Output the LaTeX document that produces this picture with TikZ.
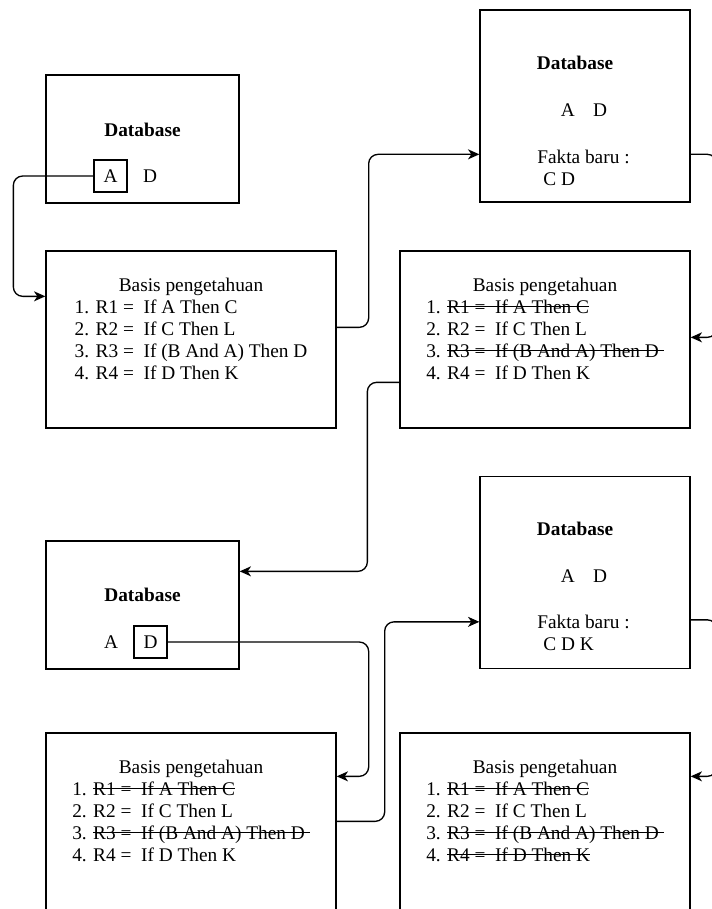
\documentclass[tikz,border=0pt]{standalone}
\usepackage{fontspec}
\setmainfont{Liberation Serif}
\usepackage{tikz}
\usetikzlibrary{arrows.meta, positioning, calc}

% coret teks (garis tengah)
\newsavebox{\strkbox}
\newcommand{\strk}[1]{\sbox{\strkbox}{#1}\rlap{\rule[0.36em]{\wd\strkbox}{0.8pt}}\usebox{\strkbox}}

\begin{document}
\begin{tikzpicture}[x=0.75pt, y=-0.75pt,
        every node/.style={font=\fontsize{14.5}{16.5}\selectfont},
        dbsmall/.style={draw, line width=1pt, minimum width=144.75pt, minimum height=96pt, inner sep=0pt},
        dbbig/.style={draw, line width=1pt, minimum width=157.5pt, minimum height=144pt, inner sep=0pt},
        kbbox/.style={draw, line width=1pt, minimum width=217.5pt, minimum height=132.75pt, inner sep=0pt},
        factbox/.style={draw, line width=1pt, minimum width=24.75pt, minimum height=24pt, inner sep=0pt},
        txt/.style={inner sep=0pt},
        title/.style={inner sep=0pt, font=\fontsize{14.5}{16.5}\selectfont\bfseries},
        conn/.style={line width=1pt, rounded corners=7pt, -{Stealth[length=8.5pt, width=7.5pt, inset=2.5pt]}}]

        \useasboundingbox (0,0) rectangle (712,909);
        \clip (0,0) rectangle (712,909);

        % Database 1 (left top)
        \node[dbsmall] (db1) at (142.5,139) {};
        \node[title] (db1title) at ($(db1)+(0,-9)$) {Database};
        \node[factbox] (a1) at ($(db1)+(-32,37)$) {A};
        \node[txt] (d1) at ($(db1)+(7.5,37)$) {D};

        % Basis pengetahuan 1
        \node[kbbox] (kb1) at (191,339.5) {};
        \node[txt] (kb1txt) at ($(kb1)+(0,-8)$) {\begin{tabular}{@{}l@{}}
            \multicolumn{1}{@{}c@{}}{Basis pengetahuan}\\
            1. R1 = \ If A Then C\\
            2. R2 = \ If C Then L\\
            3. R3 = \ If (B And A) Then D\\
            4. R4 = \ If D Then K
        \end{tabular}};

        % Database 2 (right top)
        \node[dbbig] (db2) at (585,106) {};
        \node[title] (db2title) at ($(db2)+(-10,-43)$) {Database};
        \node[txt] (db2fakta) at ($(db2)+(-1,4)$) {A\hspace{0.95em}D};
        \node[txt, align=left, anchor=west] (db2baru) at ($(db2)+(-48,61.5)$) {Fakta baru :\\\hspace{4.5pt}C D};

        % Basis pengetahuan 2
        \node[kbbox] (kb2) at (545,339.5) {};
        \node[txt] (kb2txt) at ($(kb2)+(0,-8)$) {\begin{tabular}{@{}l@{}}
            \multicolumn{1}{@{}c@{}}{Basis pengetahuan}\\
            1. \strk{R1 = \ If A Then C}\\
            2. R2 = \ If C Then L\\
            3. \strk{R3 = \ If (B And A) Then D\ }\\
            4. R4 = \ If D Then K
        \end{tabular}};

        % Database 3 (left middle)
        \node[dbsmall] (db3) at (142.5,605) {};
        \node[title] (db3title) at ($(db3)+(0,-10)$) {Database};
        \node[txt] (a3) at ($(db3)+(-31.5,37)$) {A};
        \node[factbox] (d3) at ($(db3)+(8,37)$) {D};

        % Database 4 (right middle)
        \node[dbbig] (db4) at (585,572.5) {};
        \node[title] (db4title) at ($(db4)+(-10,-43.5)$) {Database};
        \node[txt] (db4fakta) at ($(db4)+(-1,3.5)$) {A\hspace{0.95em}D};
        \node[txt, align=left, anchor=west] (db4baru) at ($(db4)+(-48,60)$) {Fakta baru :\\\hspace{4.5pt}C D K};

        % Basis pengetahuan 3
        \node[kbbox] (kb3) at (191,821.5) {};
        \node[txt] (kb3txt) at ($(kb3)+(0,-8)$) {\begin{tabular}{@{}l@{}}
            \multicolumn{1}{@{}c@{}}{Basis pengetahuan}\\
            1. \strk{R1 = \ If A Then C}\\
            2. R2 = \ If C Then L\\
            3. \strk{R3 = \ If (B And A) Then D\ }\\
            4. R4 = \ If D Then K
        \end{tabular}};

        % Basis pengetahuan 4
        \node[kbbox] (kb4) at (545,821.5) {};
        \node[txt] (kb4txt) at ($(kb4)+(0,-8)$) {\begin{tabular}{@{}l@{}}
            \multicolumn{1}{@{}c@{}}{Basis pengetahuan}\\
            1. \strk{R1 = \ If A Then C}\\
            2. R2 = \ If C Then L\\
            3. \strk{R3 = \ If (B And A) Then D\ }\\
            4. \strk{R4 = \ If D Then K}
        \end{tabular}};

        % Connectors
        \draw[conn] (a1.west) -- ++(-80,0) |- ($(kb1.north west)+(0,46)$);
        \draw[conn] ($(kb1.north east)+(0,77)$) -- ++(32,0) |- ($(db2.north west)+(0,145)$);
        \draw[conn] ($(db2.north east)+(0,145)$) -- ++(26,0) |- ($(kb2.north east)+(0,87)$);
        \draw[conn] ($(kb2.north west)+(0,132)$) -- ++(-32,0) |- ($(db3.north east)+(0,31)$);
        \draw[conn] (d3.east) -- ++(201,0) |- ($(kb3.north east)+(0,44)$);
        \draw[conn] ($(kb3.north east)+(0,89)$) -- ++(48,0) |- ($(db4.north west)+(0,146)$);
        \draw[conn] ($(db4.north east)+(0,144)$) -- ++(26,0) |- ($(kb4.north east)+(0,44)$);

    \end{tikzpicture}
\end{document}
